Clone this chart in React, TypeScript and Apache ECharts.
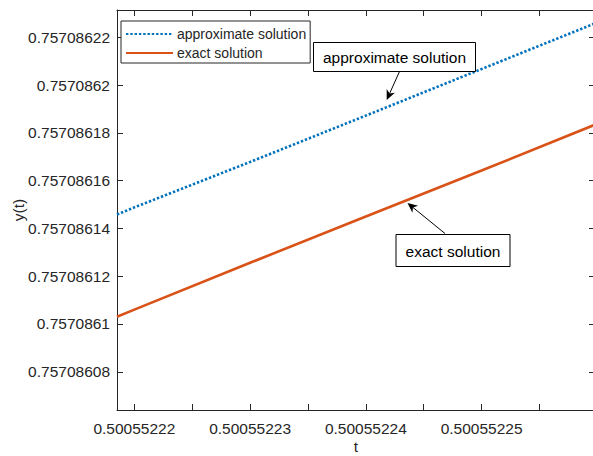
import React, { useEffect, useRef } from "react";
import * as echarts from "echarts";

const tValues = [0.5005522185, 0.50055222, 0.50055223, 0.50055224, 0.50055225, 0.5005522598];
const approxValues = [0.7570861458, 0.7570861488, 0.7570861678, 0.7570861872, 0.7570862067, 0.7570862258];
const exactValues = [0.757086103, 0.757086106, 0.7570861256, 0.757086145, 0.7570861642, 0.7570861834];
const seriesNames = ["approximate solution", "exact solution"];
const xRange = [0.5005522185, 0.5005522598];
const yRange = [0.757086064, 0.7570862314];

const AXIS = "#262626";
const FONT = "'Liberation Sans', Arial, Helvetica, sans-serif";

function arrowGraphics(x1: number, y1: number, x2: number, y2: number) {
  const dx = x2 - x1, dy = y2 - y1;
  const L = Math.hypot(dx, dy);
  const ux = dx / L, uy = dy / L;
  const px = -uy, py = ux;
  const hl = 10, hw = 4.5, notch = 7;
  const left = [x2 - hl * ux + hw * px, y2 - hl * uy + hw * py];
  const right = [x2 - hl * ux - hw * px, y2 - hl * uy - hw * py];
  const mid = [x2 - notch * ux, y2 - notch * uy];
  return [
    { type: "line", shape: { x1, y1, x2: mid[0], y2: mid[1] }, style: { stroke: "#000", lineWidth: 1 }, z: 100 },
    { type: "polygon", shape: { points: [[x2, y2], left, mid, right] }, style: { fill: "#000" }, z: 100 },
  ];
}

function textBox(x: number, y: number, w: number, h: number, label: string) {
  return [
    { type: "rect", shape: { x, y, width: w, height: h }, style: { fill: "#fff", stroke: "#000", lineWidth: 1 }, z: 100 },
    {
      type: "text", x: x + w / 2, y: y + h / 2 + 0.5, z: 101,
      style: { text: label, fill: "#000", font: `15.5px ${FONT}`, align: "center", verticalAlign: "middle" },
    },
  ];
}

export default function App() {
  const ref = useRef<HTMLDivElement>(null);
  useEffect(() => {
    document.body.style.margin = "0";
    if (!ref.current) return;
    const chart = echarts.init(ref.current, undefined, { renderer: "svg" });
    const fmt = (v: number) => String(+v.toFixed(8));
    const xFmt = (v: number) => {
      const k = Math.round(v * 1e9);
      return k % 10 === 0 ? String(+v.toFixed(8)) : "";
    };
    const baseX = {
      type: "value",
      min: xRange[0],
      max: xRange[1],
      minInterval: 5e-9,
      maxInterval: 5e-9,
      splitLine: { show: false },
      axisLine: { show: true, onZero: false, lineStyle: { color: AXIS, width: 1 } },
      axisTick: { show: true, inside: true, length: 6, lineStyle: { color: AXIS } },
    };
    const baseY = {
      type: "value",
      min: yRange[0],
      max: yRange[1],
      minInterval: 2e-8,
      maxInterval: 2e-8,
      splitLine: { show: false },
      axisLine: { show: true, onZero: false, lineStyle: { color: AXIS, width: 1 } },
      axisTick: { show: true, inside: true, length: 6, lineStyle: { color: AXIS } },
    };
    chart.setOption({
      animation: false,
      grid: { left: 117, right: -2, top: 10, bottom: 46, containLabel: false, outerBoundsMode: "none" },
      legend: {
        orient: "vertical",
        left: 121,
        top: 21,
        padding: [6, 4, 3, 4],
        itemGap: 5,
        itemWidth: 47,
        itemHeight: 14,
        borderColor: AXIS,
        borderWidth: 1,
        backgroundColor: "#fff",
        itemStyle: { color: "transparent", borderWidth: 0, opacity: 0 },
        textStyle: { fontFamily: FONT, fontSize: 14, color: AXIS, padding: [0, 0, 0, -1] },
        data: seriesNames,
      },
      xAxis: [
        {
          ...baseX,
          position: "bottom",
          name: "t",
          nameLocation: "middle",
          nameGap: 28,
          nameMoveOverlap: false,
          nameTextStyle: { fontFamily: FONT, fontSize: 15.5, color: AXIS },
          axisLabel: {
            show: true, margin: 10, formatter: xFmt, showMinLabel: false, showMaxLabel: false,
            fontFamily: FONT, fontSize: 15.5, color: AXIS, hideOverlap: false,
          },
        },
        { ...baseX, position: "top", axisLabel: { show: false } },
      ],
      yAxis: [
        {
          ...baseY,
          position: "left",
          name: "y(t)",
          nameLocation: "middle",
          nameGap: 91,
          nameMoveOverlap: false,
          nameTextStyle: { fontFamily: FONT, fontSize: 15.5, color: AXIS },
          axisLabel: {
            show: true, margin: 7, formatter: fmt, showMinLabel: false, showMaxLabel: false,
            fontFamily: FONT, fontSize: 15.5, color: AXIS,
          },
        },
        { ...baseY, position: "right", axisLabel: { show: false } },
      ],
      series: [
        {
          name: seriesNames[0],
          type: "line",
          xAxisIndex: 0,
          yAxisIndex: 0,
          symbol: "none",
          showSymbol: false,
          clip: true,
          data: tValues.map((t, i) => [t, approxValues[i]]),
          lineStyle: { color: "#0072BD", width: 2.6, type: [2.4, 1.9] },
          itemStyle: { color: "#0072BD" },
        },
        {
          name: seriesNames[1],
          type: "line",
          xAxisIndex: 0,
          yAxisIndex: 0,
          symbol: "none",
          showSymbol: false,
          clip: true,
          data: tValues.map((t, i) => [t, exactValues[i]]),
          lineStyle: { color: "#D95319", width: 2.6 },
          itemStyle: { color: "#D95319" },
        },
      ],
      graphic: [
        ...textBox(313.5, 42.5, 162, 29, seriesNames[0]),
        ...arrowGraphics(399.5, 71.5, 386.7, 100),
        ...textBox(396, 234.5, 114, 32, seriesNames[1]),
        ...arrowGraphics(445, 233.5, 407.5, 203),
      ],
    });
    return () => chart.dispose();
  }, []);
  return <div ref={ref} style={{ width: 593, height: 456 }} />;
}
